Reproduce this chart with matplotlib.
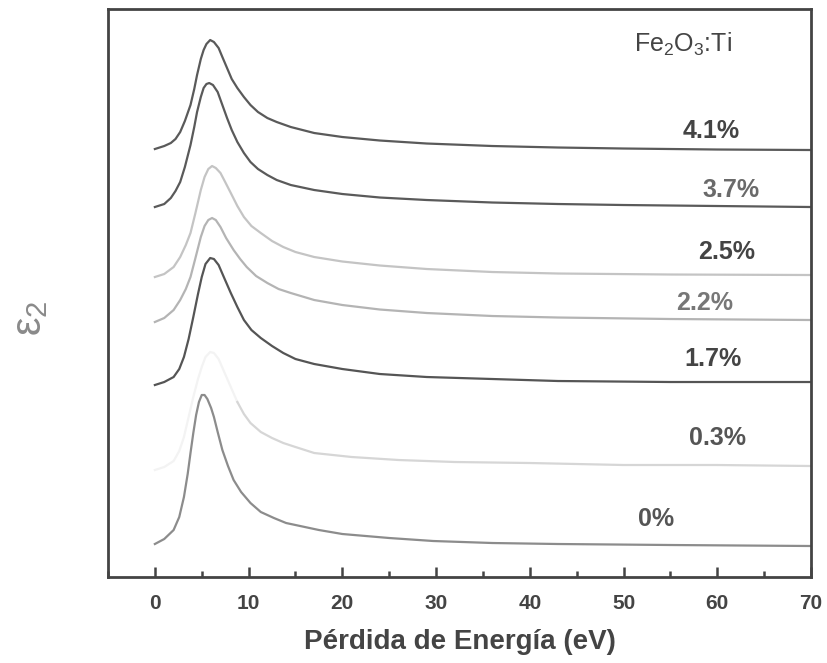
import numpy as np
import matplotlib
matplotlib.use("Agg")
import matplotlib.pyplot as plt
from matplotlib.ticker import MultipleLocator

plt.rcParams['font.family'] = ['Liberation Sans', 'DejaVu Sans']
plt.rcParams['mathtext.fontset'] = 'custom'
plt.rcParams['mathtext.rm'] = 'Liberation Sans'
plt.rcParams['mathtext.it'] = 'Liberation Sans:italic'
plt.rcParams['mathtext.bf'] = 'Liberation Sans:bold'

# Stacked epsilon_2 spectra (offset, arbitrary units) vs. energy loss in eV
E_41 = [0, 1, 1.7, 2.2, 2.7, 3.2, 3.8, 4.2, 4.5, 4.9, 5.2, 5.5, 5.9, 6.3, 6.8, 7.2, 7.7, 8.2,
        8.8, 9.5, 10.2, 11, 12, 13, 14.5, 17, 20, 24, 29, 36, 43, 50, 60, 70]
y_41 = [428, 431, 434, 438, 445, 456, 472, 488, 502, 518, 527, 533, 537, 535, 529, 520, 509, 498,
        489, 480, 472, 465, 459, 455, 450, 444, 440, 436.5, 433.5, 431, 429.5, 428.5, 427.5, 427]

E_37 = [0, 1, 1.7, 2.2, 2.7, 3.2, 3.8, 4.2, 4.5, 4.9, 5.2, 5.5, 5.8, 6.2, 6.7, 7.2, 7.7, 8.2,
        8.8, 9.5, 10.2, 11, 12, 13, 14.5, 17, 20, 24, 29, 36, 43, 50, 60, 70]
y_37 = [370, 373, 379, 386, 395, 410, 432, 450, 465, 480, 489, 493, 494, 492, 485, 472, 459, 447,
        435, 424, 415, 408, 402, 397, 392, 387, 383, 379.5, 377, 374.5, 373, 372, 371, 370]

E_25 = [0, 1, 2, 2.7, 3.3, 3.8, 4.3, 4.9, 5.3, 5.7, 6.1, 6.5, 7, 7.5, 8.1, 8.8, 9.5, 10.3,
        11.3, 12.5, 13.7, 15, 17, 20, 24, 29, 36, 43, 55, 70]
y_25 = [300, 303, 310, 320, 332, 344, 363, 387, 400, 408, 411, 409, 404, 395, 384, 371, 360, 351,
        344, 336, 330, 325, 320, 315.5, 311.5, 308, 305, 303.5, 302.5, 302]

E_22 = [0, 1, 2, 2.7, 3.3, 3.8, 4.3, 4.9, 5.3, 5.7, 6.1, 6.5, 7, 7.6, 8.4, 9.1, 9.8, 10.8,
        12, 13.2, 14.5, 17, 20, 24, 29, 36, 43, 55, 70]
y_22 = [255, 259, 267, 277, 288, 300, 318, 340, 351, 357, 359, 357, 350, 339, 327, 318, 310, 301,
        294, 288, 284, 277, 272, 267.5, 264, 261, 259.5, 258, 257]

E_17 = [0, 1, 2, 2.6, 3.1, 3.6, 4.1, 4.6, 5, 5.4, 5.9, 6.3, 6.8, 7.4, 8.1, 8.8, 9.5, 10.3,
        11.3, 12.5, 13.7, 15, 17, 20, 24, 29, 36, 43, 55, 70]
y_17 = [192, 195, 200, 208, 220, 238, 260, 283, 300, 313, 319, 318, 312, 299, 284, 270, 257, 247,
        239, 231, 224, 218, 213, 208, 203, 200, 198, 196, 195, 195]

E_03 = [0, 1, 2, 2.6, 3.1, 3.6, 4.1, 4.6, 5, 5.4, 5.9, 6.3, 6.8, 7.4, 8.1, 8.8, 9.5, 10.2,
        11.3, 12.5, 13.7, 15, 17, 21, 26, 32, 40, 50, 60, 70]
y_03 = [107, 110, 116, 126, 140, 160, 180, 198, 210, 220, 225, 224, 218, 205, 190, 175, 163, 154,
        145, 139, 134, 130, 124, 120, 117, 115, 114, 112, 112, 111]

E_00 = [0, 1, 2, 2.6, 3.1, 3.5, 3.8, 4.1, 4.4, 4.7, 5.0, 5.3, 5.6, 6.0, 6.3, 6.7, 7.2, 7.8,
        8.4, 9.2, 10.2, 11.3, 12.7, 14, 15.5, 17.5, 20, 25, 29.7, 36, 43, 55, 70]
y_00 = [33, 38, 47, 60, 80, 103, 124, 144, 162, 175, 182, 182, 178, 169, 160, 145, 127, 111,
        97, 85, 74, 65, 59, 54, 51, 47, 43, 39, 36, 34, 33, 32, 31]

labels = ['4.1%', '3.7%', '2.5%', '2.2%', '1.7%', '0.3%', '0%']
label_x = [59.4, 61.5, 61.0, 58.6, 59.5, 60.0, 53.5]
label_y = [446, 387, 325, 274, 218, 139, 58]

fig = plt.figure(figsize=(8.27, 6.63), dpi=100)
ax = fig.add_axes([0.1306, 0.1297, 0.8501, 0.8567])

lw = 1.6
ax.plot(E_41, y_41, color='#5a5a5a', lw=lw)
ax.plot(E_37, y_37, color='#5a5a5a', lw=lw)
ax.plot(E_25, y_25, color='#c4c4c4', lw=lw)
ax.plot(E_22, y_22, color='#b4b4b4', lw=lw)
ax.plot(E_17, y_17, color='#555555', lw=lw)
# 0.3 %: rising edge and peak are barely visible, tail is faint grey
E03 = np.array(E_03)
y03 = np.array(y_03)
head = E03 <= 8.8
tail = E03 >= 8.8
ax.plot(E03[head], y03[head], color='#f3f3f3', lw=lw)
ax.plot(E03[tail], y03[tail], color='#d6d6d6', lw=lw)
ax.plot(E_00, y_00, color='#8c8c8c', lw=lw)

label_colors = ['#444444', '#6a6a6a', '#444444', '#777777', '#444444', '#555555', '#555555']
for t, x, y, c in zip(labels, label_x, label_y, label_colors):
    ax.text(x, y, t, ha='center', va='center', fontsize=18, fontweight='bold', color=c)

ax.text(56.3, 533, r'$\mathregular{Fe_2O_3}$:Ti', ha='center', va='center',
        fontsize=18, color='#444444')

ax.set_xlim(-5, 70)
ax.set_ylim(0, 568)
ax.xaxis.set_major_locator(MultipleLocator(10))
ax.xaxis.set_minor_locator(MultipleLocator(5))
ax.tick_params(axis='x', which='major', direction='in', length=7, width=1.8,
               color='#444444', labelsize=15, pad=12, labelcolor='#444444')
ax.tick_params(axis='x', which='minor', direction='in', length=4, width=1.8, color='#444444')
for lab in ax.get_xticklabels():
    lab.set_fontweight('bold')
ax.set_yticks([])
for s in ax.spines.values():
    s.set_linewidth(2.0)
    s.set_color('#444444')

ax.set_xlabel('Pérdida de Energía (eV)', fontsize=20, fontweight='bold', color='#444444', labelpad=12)
fig.text(0.036, 0.52, r'ε$_2$', rotation=90, ha='center', va='center',
         fontsize=30, color='#8a8a8a')

fig.savefig('out.png', dpi=100)
